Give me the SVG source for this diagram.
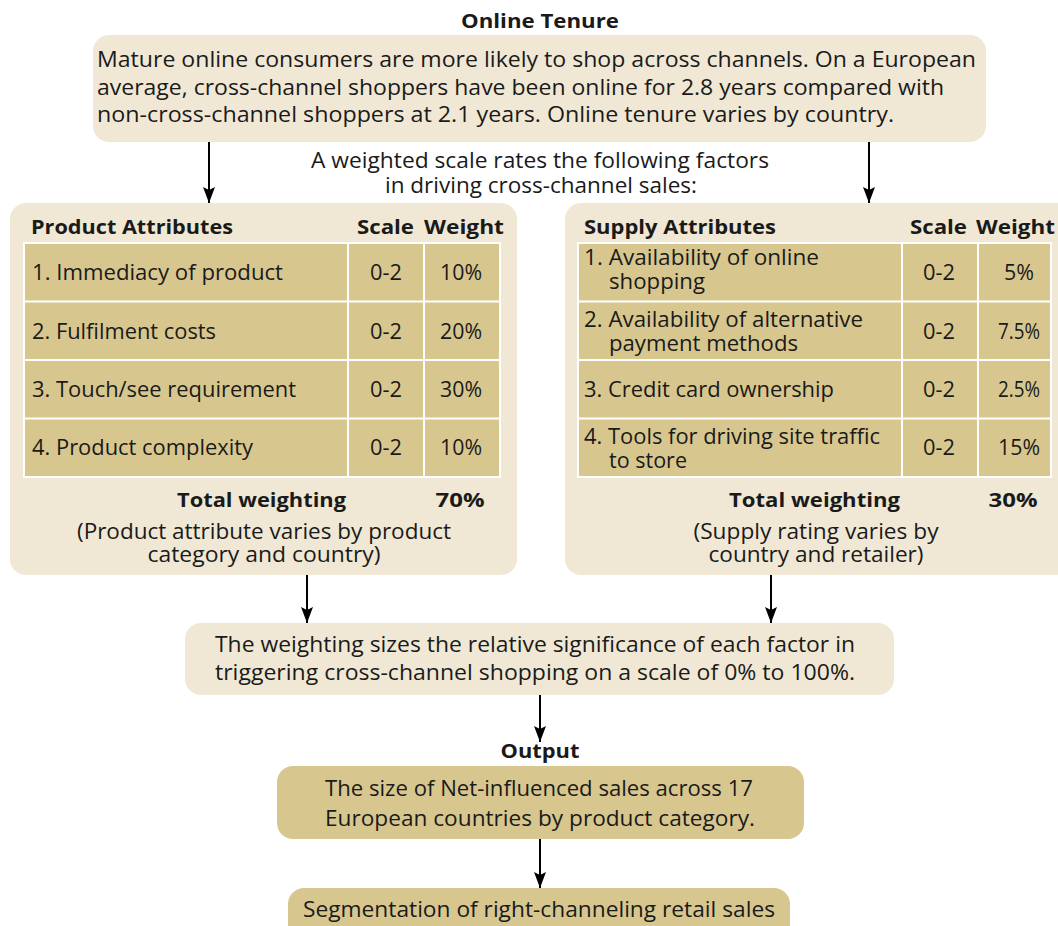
<svg xmlns="http://www.w3.org/2000/svg" width="1058" height="926" viewBox="0 0 1058 926">
<defs>
<style>
text{font-family:"Open Sans","Noto Sans","Liberation Sans",sans-serif;font-size:21px;fill:#1a1a1a}
.b{font-weight:700;font-size:20px}
.m{text-anchor:middle}
.light{fill:#f0e8d4}
.dark{fill:#d7c78f}
.grid{stroke:#ffffff;stroke-width:2;fill:none}
.conn{stroke:#000;stroke-width:2;fill:none}
</style>
<marker id="ah" viewBox="0 0 16 12" refX="16" refY="6" markerWidth="16" markerHeight="12" markerUnits="userSpaceOnUse" orient="auto">
<path d="M0,0 L16,6 L0,12 L3,6 z" fill="#000"/>
</marker>
</defs>
<rect width="1058" height="926" fill="#ffffff"/>

<g id="tenure">
<text class="b m" x="540" y="28" textLength="158" lengthAdjust="spacingAndGlyphs">Online Tenure</text>
<rect class="light" x="93" y="35" width="893" height="107" rx="16"/>
<text x="97" y="67" textLength="879" lengthAdjust="spacingAndGlyphs">Mature online consumers are more likely to shop across channels. On a European</text>
<text x="97" y="95" textLength="847" lengthAdjust="spacingAndGlyphs">average, cross-channel shoppers have been online for 2.8 years compared with</text>
<text x="97" y="122" textLength="797" lengthAdjust="spacingAndGlyphs">non-cross-channel shoppers at 2.1 years. Online tenure varies by country.</text>
</g>

<g id="scale-note">
<text x="311" y="168" textLength="458" lengthAdjust="spacingAndGlyphs">A weighted scale rates the following factors</text>
<text x="385" y="193" textLength="312" lengthAdjust="spacingAndGlyphs">in driving cross-channel sales:</text>
</g>

<g id="product">
<rect class="light" x="10" y="203" width="507" height="372" rx="16"/>
<text class="b" x="31" y="234" textLength="202" lengthAdjust="spacingAndGlyphs">Product Attributes</text>
<text class="b" x="357" y="234" textLength="57" lengthAdjust="spacingAndGlyphs">Scale</text>
<text class="b" x="424" y="234" textLength="80" lengthAdjust="spacingAndGlyphs">Weight</text>
<rect class="dark" x="24" y="243" width="476" height="234"/>
<path class="grid" d="M24,243H500V477H24Z M24,301.5H500 M24,360H500 M24,418.5H500 M348,243V477 M424,243V477"/>
<text x="32" y="279.5" textLength="251" lengthAdjust="spacingAndGlyphs">1. Immediacy of product</text>
<text x="32" y="338.5" textLength="184" lengthAdjust="spacingAndGlyphs">2. Fulfilment costs</text>
<text x="32" y="397" textLength="264" lengthAdjust="spacingAndGlyphs">3. Touch/see requirement</text>
<text x="32" y="455" textLength="221" lengthAdjust="spacingAndGlyphs">4. Product complexity</text>
<text class="m" x="386" y="279.5" textLength="32" lengthAdjust="spacingAndGlyphs">0-2</text>
<text class="m" x="386" y="338.5" textLength="32" lengthAdjust="spacingAndGlyphs">0-2</text>
<text class="m" x="386" y="397" textLength="32" lengthAdjust="spacingAndGlyphs">0-2</text>
<text class="m" x="386" y="455" textLength="32" lengthAdjust="spacingAndGlyphs">0-2</text>
<text class="m" x="461" y="279.5" textLength="42" lengthAdjust="spacingAndGlyphs">10%</text>
<text class="m" x="461" y="338.5" textLength="42" lengthAdjust="spacingAndGlyphs">20%</text>
<text class="m" x="461" y="397" textLength="42" lengthAdjust="spacingAndGlyphs">30%</text>
<text class="m" x="461" y="455" textLength="42" lengthAdjust="spacingAndGlyphs">10%</text>
<text class="b" x="177" y="507" textLength="169" lengthAdjust="spacingAndGlyphs">Total weighting</text>
<text class="b m" x="460" y="507" textLength="49" lengthAdjust="spacingAndGlyphs">70%</text>
<text class="m" x="264" y="539" textLength="374" lengthAdjust="spacingAndGlyphs">(Product attribute varies by product</text>
<text class="m" x="264" y="562" textLength="233" lengthAdjust="spacingAndGlyphs">category and country)</text>
</g>

<g id="supply">
<rect class="light" x="565" y="203" width="520" height="372" rx="16"/>
<text class="b" x="584" y="234" textLength="192" lengthAdjust="spacingAndGlyphs">Supply Attributes</text>
<text class="b" x="910" y="234" textLength="57" lengthAdjust="spacingAndGlyphs">Scale</text>
<text class="b" x="976" y="234" textLength="79" lengthAdjust="spacingAndGlyphs">Weight</text>
<rect class="dark" x="578" y="243" width="473" height="234"/>
<path class="grid" d="M578,243H1051V477H578Z M578,301.5H1051 M578,360H1051 M578,418.5H1051 M902,243V477 M978,243V477"/>
<text x="584" y="265" textLength="235" lengthAdjust="spacingAndGlyphs">1. Availability of online</text>
<text x="609" y="289" textLength="96" lengthAdjust="spacingAndGlyphs">shopping</text>
<text x="584" y="327" textLength="279" lengthAdjust="spacingAndGlyphs">2. Availability of alternative</text>
<text x="609" y="350.5" textLength="189" lengthAdjust="spacingAndGlyphs">payment methods</text>
<text x="584" y="397" textLength="250" lengthAdjust="spacingAndGlyphs">3. Credit card ownership</text>
<text x="584" y="444" textLength="296" lengthAdjust="spacingAndGlyphs">4. Tools for driving site traffic</text>
<text x="609" y="468" textLength="78" lengthAdjust="spacingAndGlyphs">to store</text>
<text class="m" x="939" y="279.5" textLength="32" lengthAdjust="spacingAndGlyphs">0-2</text>
<text class="m" x="939" y="338.5" textLength="32" lengthAdjust="spacingAndGlyphs">0-2</text>
<text class="m" x="939" y="397" textLength="32" lengthAdjust="spacingAndGlyphs">0-2</text>
<text class="m" x="939" y="455" textLength="32" lengthAdjust="spacingAndGlyphs">0-2</text>
<text class="m" x="1019" y="279.5" textLength="30" lengthAdjust="spacingAndGlyphs">5%</text>
<text class="m" x="1019" y="338.5" textLength="42" lengthAdjust="spacingAndGlyphs">7.5%</text>
<text class="m" x="1019" y="397" textLength="42" lengthAdjust="spacingAndGlyphs">2.5%</text>
<text class="m" x="1019" y="455" textLength="42" lengthAdjust="spacingAndGlyphs">15%</text>
<text class="b" x="729" y="507" textLength="171" lengthAdjust="spacingAndGlyphs">Total weighting</text>
<text class="b m" x="1013" y="507" textLength="49" lengthAdjust="spacingAndGlyphs">30%</text>
<text class="m" x="816" y="539" textLength="245" lengthAdjust="spacingAndGlyphs">(Supply rating varies by</text>
<text class="m" x="816" y="562" textLength="215" lengthAdjust="spacingAndGlyphs">country and retailer)</text>
</g>

<g id="weighting">
<rect class="light" x="185" y="623" width="709" height="72" rx="16"/>
<text x="215" y="652" textLength="640" lengthAdjust="spacingAndGlyphs">The weighting sizes the relative significance of each factor in</text>
<text x="215" y="680" textLength="640" lengthAdjust="spacingAndGlyphs">triggering cross-channel shopping on a scale of 0% to 100%.</text>
</g>

<g id="output">
<text class="b m" x="540" y="758" textLength="79" lengthAdjust="spacingAndGlyphs">Output</text>
<rect class="dark" x="277" y="766" width="527" height="73" rx="16"/>
<text x="325" y="796" textLength="428" lengthAdjust="spacingAndGlyphs">The size of Net-influenced sales across 17</text>
<text x="325" y="826" textLength="430" lengthAdjust="spacingAndGlyphs">European countries by product category.</text>
</g>

<g id="segmentation">
<rect class="dark" x="288" y="888" width="502" height="60" rx="16"/>
<text x="303" y="917" textLength="472" lengthAdjust="spacingAndGlyphs">Segmentation of right-channeling retail sales</text>
</g>

<g id="connectors">
<line class="conn" x1="209" y1="142" x2="209" y2="203" marker-end="url(#ah)"/>
<line class="conn" x1="869" y1="142" x2="869" y2="203" marker-end="url(#ah)"/>
<line class="conn" x1="307" y1="575" x2="307" y2="623" marker-end="url(#ah)"/>
<line class="conn" x1="771" y1="575" x2="771" y2="623" marker-end="url(#ah)"/>
<line class="conn" x1="540" y1="695" x2="540" y2="742" marker-end="url(#ah)"/>
<line class="conn" x1="540" y1="839" x2="540" y2="888" marker-end="url(#ah)"/>
</g>
</svg>
